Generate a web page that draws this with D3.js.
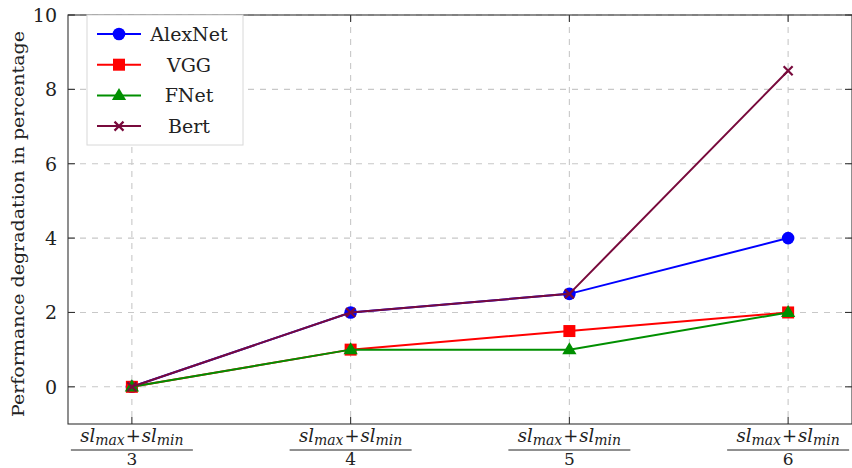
<!DOCTYPE html>
<html>
<head>
<meta charset="utf-8">
<script src="https://cdn.jsdelivr.net/npm/d3@7"></script>
<style>
  html, body { margin: 0; padding: 0; background: #fff; }
  svg text { font-family: "DejaVu Serif", serif; fill: #222; }
</style>
</head>
<body>
<svg id="chart" width="852" height="468"></svg>
<script>
// Category denominators for sl_max + sl_min over n
const denominators = ["3", "4", "5", "6"];
const yTicks = [0, 2, 4, 6, 8, 10];

const alexnet = [0, 2, 2.5, 4];
const vgg     = [0, 1, 1.5, 2];
const fnet    = [0, 1, 1, 2];
const bert    = [0, 2, 2.5, 8.5];

const seriesList = [
  { name: "AlexNet", values: alexnet, color: "#0000ff", marker: "circle" },
  { name: "VGG",     values: vgg,     color: "#ff0000", marker: "square" },
  { name: "FNet",    values: fnet,    color: "#008f00", marker: "triangle" },
  { name: "Bert",    values: bert,    color: "#780a3c", marker: "cross" }
];

const svg = d3.select("#chart");
const plot = { left: 68, right: 852, top: 15, bottom: 424 };

const x = d3.scaleLinear().domain([-0.292, 3.292]).range([plot.left, plot.right]);
const y = d3.scaleLinear().domain([-1, 10]).range([plot.bottom, plot.top]);
const idx = d3.range(denominators.length);

// dashed grid
const grid = svg.append("g");
grid.selectAll("line.gy").data(yTicks).join("line")
  .attr("x1", plot.left).attr("x2", plot.right)
  .attr("y1", d => y(d)).attr("y2", d => y(d))
  .attr("stroke", "#c8c8c8").attr("stroke-width", 1.1).attr("stroke-dasharray", "6,6");
grid.selectAll("line.gx").data(idx).join("line")
  .attr("x1", d => x(d)).attr("x2", d => x(d))
  .attr("y1", plot.top).attr("y2", plot.bottom)
  .attr("stroke", "#c8c8c8").attr("stroke-width", 1.1).attr("stroke-dasharray", "6,6");

// frame with inward ticks on all sides
const frame = svg.append("g").attr("stroke", "#333").attr("stroke-width", 1.1);
frame.append("rect")
  .attr("x", plot.left).attr("y", plot.top)
  .attr("width", plot.right - plot.left).attr("height", plot.bottom - plot.top)
  .attr("fill", "none");
const tl = 7;
yTicks.forEach(v => {
  frame.append("line").attr("x1", plot.left).attr("x2", plot.left + tl).attr("y1", y(v)).attr("y2", y(v));
  frame.append("line").attr("x1", plot.right - tl).attr("x2", plot.right).attr("y1", y(v)).attr("y2", y(v));
});
idx.forEach(i => {
  frame.append("line").attr("x1", x(i)).attr("x2", x(i)).attr("y1", plot.bottom - tl).attr("y2", plot.bottom);
  frame.append("line").attr("x1", x(i)).attr("x2", x(i)).attr("y1", plot.top).attr("y2", plot.top + tl);
});

// y tick labels
svg.append("g").selectAll("text").data(yTicks).join("text")
  .attr("x", plot.left - 11).attr("y", d => y(d) + 7)
  .attr("text-anchor", "end").attr("font-size", 19)
  .text(d => d);

// y axis title
svg.append("text")
  .attr("transform", `translate(24, ${(30 + 418) / 2}) rotate(-90)`)
  .attr("text-anchor", "middle").attr("font-size", 17)
  .attr("textLength", 386).attr("lengthAdjust", "spacingAndGlyphs")
  .text("Performance degradation in percentage");

// x tick labels as fractions
const xl = svg.append("g");
idx.forEach(i => {
  const cx = x(i);
  const num = xl.append("text").attr("x", cx).attr("y", 442)
    .attr("text-anchor", "middle").attr("font-size", 18);
  num.append("tspan").attr("font-style", "italic").text("sl");
  num.append("tspan").attr("font-style", "italic").attr("font-size", 14).attr("dy", 3).text("max");
  num.append("tspan").attr("dy", -3).attr("dx", 1).text("+");
  num.append("tspan").attr("font-style", "italic").attr("dx", 1).text("sl");
  num.append("tspan").attr("font-style", "italic").attr("font-size", 14).attr("dy", 3).text("min");
  xl.append("line").attr("x1", cx - 61).attr("x2", cx + 61)
    .attr("y1", 450).attr("y2", 450).attr("stroke", "#222").attr("stroke-width", 1);
  xl.append("text").attr("x", cx).attr("y", 465).attr("text-anchor", "middle")
    .attr("font-size", 17).text(denominators[i]);
});

function drawMarker(g, type, cx, cy, color, scale = 1) {
  if (type === "circle") {
    g.append("circle").attr("cx", cx).attr("cy", cy).attr("r", 6.3 * scale).attr("fill", color);
  } else if (type === "square") {
    const s = 12 * scale;
    g.append("rect").attr("x", cx - s / 2).attr("y", cy - s / 2).attr("width", s).attr("height", s).attr("fill", color);
  } else if (type === "triangle") {
    const s = 7.5 * scale;
    g.append("path").attr("d", `M${cx},${cy - s}L${cx + s * 0.95},${cy + s * 0.62}L${cx - s * 0.95},${cy + s * 0.62}Z`).attr("fill", color);
  } else {
    const s = 4.5 * scale;
    g.append("path").attr("d", `M${cx - s},${cy - s}L${cx + s},${cy + s}M${cx - s},${cy + s}L${cx + s},${cy - s}`)
      .attr("stroke", color).attr("stroke-width", 2.2).attr("fill", "none");
  }
}

const line = d3.line().x((d, i) => x(i)).y(d => y(d));
seriesList.forEach(s => {
  const g = svg.append("g");
  g.append("path").datum(s.values).attr("d", line)
    .attr("fill", "none").attr("stroke", s.color).attr("stroke-width", 2);
  s.values.forEach((v, i) => drawMarker(g, s.marker, x(i), y(v), s.color));
});

// legend
const lg = svg.append("g");
lg.append("rect").attr("x", 87).attr("y", 15).attr("width", 156).attr("height", 130)
  .attr("fill", "#fff").attr("stroke", "#d8d8d8").attr("stroke-width", 1);
seriesList.forEach((s, k) => {
  const ly = 34 + k * 30.7;
  lg.append("line").attr("x1", 97).attr("x2", 141).attr("y1", ly).attr("y2", ly)
    .attr("stroke", s.color).attr("stroke-width", 2);
  drawMarker(lg, s.marker, 119, ly, s.color);
  lg.append("text").attr("x", 189).attr("y", ly + 7).attr("text-anchor", "middle")
    .attr("font-size", 19).text(s.name);
});
</script>
</body>
</html>
